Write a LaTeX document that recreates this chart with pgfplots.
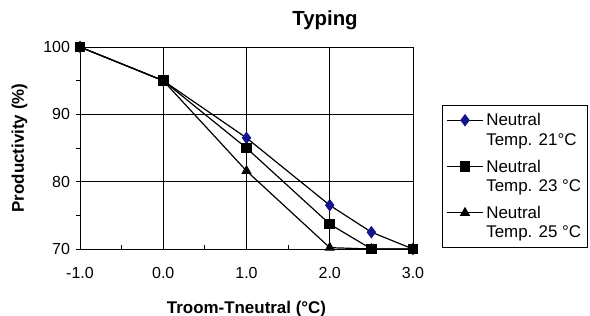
\documentclass[border=0pt]{standalone}
\usepackage{fontspec}
\setmainfont{Liberation Sans}
\usepackage{pgfplots}
\pgfplotsset{compat=1.18}
\definecolor{navyd}{RGB}{20,20,140}
\begin{document}
\begin{tikzpicture}[x=0.75pt,y=0.75pt]
\useasboundingbox (0,0) rectangle (590,315);
\begin{axis}[
  at={(80pt*0.75,66pt*0.75)}, anchor=south west,
  scale only axis, width=249.75pt, height=151.5pt,
  xmin=-1, xmax=3, ymin=70, ymax=100,
  xtick={-1,0,1,2,3}, ytick={70,80,90,100},
  minor xtick={-0.5,0.5,1.5,2.5}, minor ytick={75,85,95},
  xticklabels={-1.0,0.0,1.0,2.0,3.0},
  xtick align=inside, ytick align=outside,
  xtick pos=bottom, ytick pos=left,
  major tick length=3pt, minor tick length=3pt,
  tick style={black, line width=0.6pt},
  grid=major, major grid style={black, line width=0.6pt},
  axis line style={black, line width=0.6pt},
  ticklabel style={font=\fontsize{12}{14}\selectfont},
  /pgf/number format/assume math mode=true,
  xticklabel style={yshift=-10pt},
  yticklabel style={xshift=-1pt},
  xlabel={\bfseries Troom-Tneutral (°C)},
  ylabel={\bfseries Productivity (\%)},
  label style={font=\fontsize{12.7}{14}\selectfont},
  xlabel style={yshift=-10pt},
  ylabel style={yshift=5pt},
  clip=false,
  legend style={draw=black, line width=0.6pt,
    font=\fontsize{12.7}{14.5}\selectfont, cells={align=left, anchor=west},
    inner xsep=3pt, inner ysep=4pt, row sep=5.5pt,
    at={(1.0,0)}, anchor=south west, xshift=21.75pt, yshift=0.75pt},
  legend cell align=left,
  legend image code/.code={\draw[#1] (0cm,7.5pt) -- (0.95cm,7.5pt); \path[#1] plot coordinates {(0.475cm,7.5pt)};},
]
\addplot[black, line width=0.9pt, mark=diamond*, mark size=4pt, mark options={fill=navyd, draw=navyd}]
  coordinates {(-1,100) (0,95) (1,86.5) (2,76.5) (2.5,72.5) (3,70)};
\addlegendentry{Neutral\\Temp. 21°C}
\addplot[black, line width=0.9pt, mark=square*, mark size=3.6pt, mark options={fill=black}]
  coordinates {(-1,100) (0,95) (1,85) (2,73.7) (2.5,70) (3,70)};
\addlegendentry{Neutral\\Temp. 23 °C}
\addplot[black, line width=0.9pt, mark=triangle*, mark size=3.6pt, mark options={fill=black}]
  coordinates {(-1,100) (0,95) (1,81.6) (2,70.2) (2.5,70) (3,70)};
\addlegendentry{Neutral\\Temp. 25 °C}
\end{axis}
\node[font=\bfseries\fontsize{15.3}{17}\selectfont] at (325,295) {Typing};
\end{tikzpicture}
\end{document}
